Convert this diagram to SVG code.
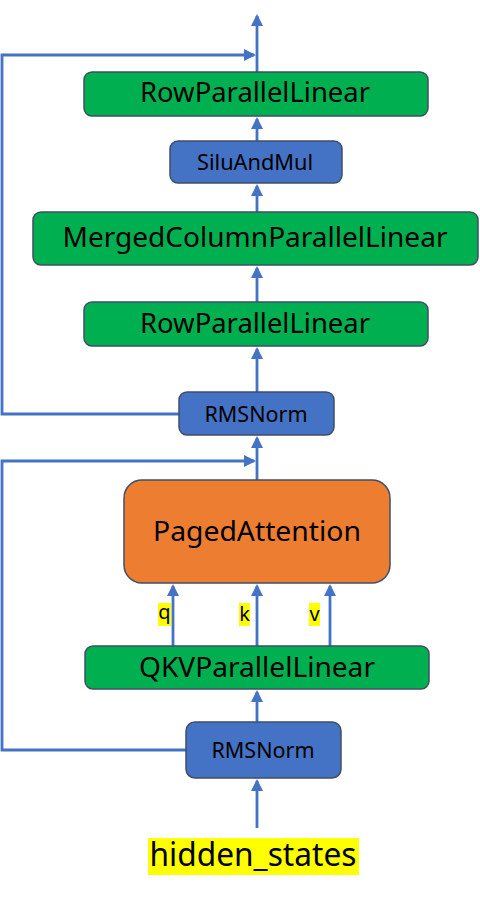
<svg xmlns="http://www.w3.org/2000/svg" width="480" height="898" viewBox="0 0 480 898">
<style>
.g{fill:#00B050;stroke:#3F4F66;stroke-width:1.5}
.b{fill:#4472C4;stroke:#3F4F66;stroke-width:1.5}
.o{fill:#ED7D31;stroke:#3F4F66;stroke-width:1.5}
text{font-family:"Noto Sans","Open Sans","Liberation Sans",sans-serif;fill:#000;text-anchor:middle}
.c{fill:none;stroke:#4472C4;stroke-width:2.8}
.hl{fill:#FFFF00}
</style>
<defs>
<marker id="ah" markerWidth="12" markerHeight="12" refX="10" refY="6" orient="auto" markerUnits="userSpaceOnUse">
<path d="M0,0 L12,6 L0,12 Z" fill="#4472C4"/>
</marker>
</defs>
<g id="connectors">
<line class="c" x1="257" y1="72" x2="257" y2="16" marker-end="url(#ah)"/>
<polyline class="c" points="179,414 2,414 2,55 254,55" marker-end="url(#ah)"/>
<line class="c" x1="257" y1="141" x2="257" y2="119" marker-end="url(#ah)"/>
<line class="c" x1="257" y1="212" x2="257" y2="186" marker-end="url(#ah)"/>
<line class="c" x1="257" y1="302" x2="257" y2="268" marker-end="url(#ah)"/>
<line class="c" x1="257" y1="392" x2="257" y2="349" marker-end="url(#ah)"/>
<line class="c" x1="257" y1="480" x2="257" y2="438" marker-end="url(#ah)"/>
<polyline class="c" points="186,750 2,750 2,461 254,461" marker-end="url(#ah)"/>
<line class="c" x1="173" y1="646" x2="173" y2="586" marker-end="url(#ah)"/>
<line class="c" x1="257" y1="646" x2="257" y2="586" marker-end="url(#ah)"/>
<line class="c" x1="330" y1="646" x2="330" y2="586" marker-end="url(#ah)"/>
<line class="c" x1="257" y1="722" x2="257" y2="692" marker-end="url(#ah)"/>
<line class="c" x1="257" y1="828" x2="257" y2="781" marker-end="url(#ah)"/>
</g>
<g id="row1">
<rect class="g" x="84" y="72" width="344" height="44" rx="8"/>
<text x="255" y="102" font-size="28" textLength="230" lengthAdjust="spacingAndGlyphs">RowParallelLinear</text>
</g>
<g id="silu">
<rect class="b" x="170" y="141" width="172" height="42" rx="8"/>
<text x="255" y="170" font-size="21" textLength="116" lengthAdjust="spacingAndGlyphs">SiluAndMul</text>
</g>
<g id="merged">
<rect class="g" x="33" y="212" width="445" height="53" rx="8"/>
<text x="255" y="247" font-size="28" textLength="385" lengthAdjust="spacingAndGlyphs">MergedColumnParallelLinear</text>
</g>
<g id="row2">
<rect class="g" x="84" y="302" width="344" height="44" rx="8"/>
<text x="255" y="333" font-size="28" textLength="230" lengthAdjust="spacingAndGlyphs">RowParallelLinear</text>
</g>
<g id="rms1">
<rect class="b" x="179" y="392" width="155" height="43" rx="8"/>
<text x="256" y="422" font-size="22" textLength="103" lengthAdjust="spacingAndGlyphs">RMSNorm</text>
</g>
<g id="paged">
<rect class="o" x="124" y="480" width="266" height="103" rx="18"/>
<text x="257" y="541" font-size="27" textLength="208" lengthAdjust="spacingAndGlyphs">PagedAttention</text>
</g>
<g id="qlabel">
<rect class="hl" x="158" y="603" width="13" height="23"/>
<text x="164.5" y="619" font-size="20">q</text>
</g>
<g id="klabel">
<rect class="hl" x="239" y="603" width="11" height="23"/>
<text x="244.5" y="621" font-size="20">k</text>
</g>
<g id="vlabel">
<rect class="hl" x="309" y="603" width="11" height="23"/>
<text x="314.5" y="621" font-size="20">v</text>
</g>
<g id="qkv">
<rect class="g" x="85" y="646" width="344" height="43" rx="8"/>
<text x="257" y="677" font-size="28" textLength="236" lengthAdjust="spacingAndGlyphs">QKVParallelLinear</text>
</g>
<g id="rms2">
<rect class="b" x="186" y="722" width="155" height="56" rx="9"/>
<text x="263" y="758" font-size="22" textLength="103" lengthAdjust="spacingAndGlyphs">RMSNorm</text>
</g>
<g id="hidden">
<rect class="hl" x="148" y="838" width="211" height="37"/>
<text x="253" y="866" font-size="32" textLength="207" lengthAdjust="spacingAndGlyphs">hidden_states</text>
</g>
</svg>
